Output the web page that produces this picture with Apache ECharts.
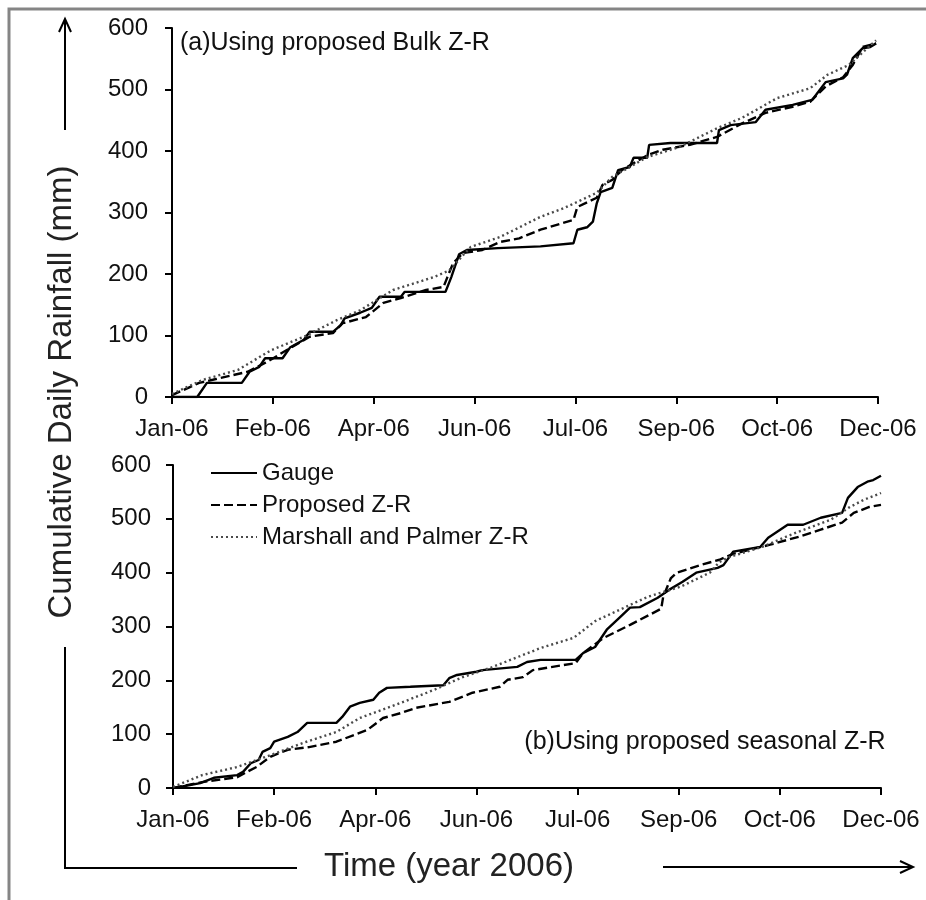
<!DOCTYPE html>
<html>
<head>
<meta charset="utf-8">
<script src="https://cdn.jsdelivr.net/npm/echarts@6/dist/echarts.min.js"></script>
<style>
html,body{margin:0;padding:0;background:#fff;}
#chart{width:926px;height:900px;}
</style>
</head>
<body>
<div id="chart"></div>
<script>
// ---- tick labels ----
const xTickLabels = ['Jan-06','Feb-06','Apr-06','Jun-06','Jul-06','Sep-06','Oct-06','Dec-06'];
const seriesNames = ['Gauge','Proposed Z-R','Marshall and Palmer Z-R'];

// ---- panel (a): Bulk Z-R (x = day of year, y = cumulative mm) ----
const gaugeA_days = [0,13,18,36,40,45,48,57,61,68,71,83,87,89,97,103,107,118,120,141,144,148,152,168,190,207,209,214,217,219,221,227,230,236,238,245,246,257,281,282,288,301,306,320,330,332,337,346,348,351,356,360,363];
const gaugeA_vals = [0,0,23,23,41,49,63,63,81,93,106,106,117,128,137,145,163,163,171,171,195,232,239,242,245,250,272,276,285,315,333,340,369,374,389,389,410,413,413,434,442,447,467,475,483,491,512,518,524,551,567,569,575];

const propA_days = [0,14,21,39,49,59,71,83,88,100,109,118,131,140,142,145,150,160,169,179,190,207,209,219,222,227,232,245,253,267,281,294,306,320,329,337,346,351,356,363];
const propA_vals = [3,23,28,41,57,76,98,104,120,130,153,161,174,179,195,218,234,239,252,258,272,288,309,324,345,353,369,393,402,410,423,445,462,472,480,505,520,540,569,575];

const mpA_days = [0,16,34,51,68,85,97,114,135,143,154,169,190,202,219,227,245,262,281,294,312,329,338,349,363];
const mpA_vals = [5,28,44,76,98,125,141,174,195,206,244,260,293,307,332,358,390,407,437,454,486,502,524,540,580];

// ---- panel (b): seasonal Z-R ----
const gaugeB_days = [0,2,14,21,33,36,40,44,46,50,52,59,64,69,84,87,91,96,103,106,110,122,139,142,146,156,159,177,182,189,207,211,217,223,230,235,240,249,255,262,269,280,283,288,302,306,316,324,333,344,347,352,357,360,364];
const gaugeB_vals = [0,1,9,19,24,30,46,52,67,74,86,95,104,121,121,132,151,158,164,177,186,188,191,204,210,216,219,225,234,238,238,251,262,294,318,335,336,353,368,383,400,409,414,439,448,465,489,489,502,511,539,559,569,572,580];

const propB_days = [0,15,33,38,43,50,59,70,84,100,108,117,125,142,154,168,172,180,185,207,211,221,235,251,252,256,259,271,281,288,307,322,333,344,350,358,364];
const propB_vals = [0,11,20,30,39,58,71,76,86,108,130,139,149,160,177,188,201,206,219,232,251,278,303,333,355,390,400,414,424,435,452,467,480,493,511,522,526];

const mpB_days = [0,15,33,50,67,84,96,117,134,149,163,177,189,206,217,226,244,261,276,281,286,303,320,338,348,355,364];
const mpB_vals = [2,24,39,61,84,104,130,158,182,206,223,243,260,279,310,325,355,374,400,420,429,448,474,498,522,535,548];

function pairs(d, v){ return d.map((x,i)=>[x, v[i]]); }

const FONT = '"Liberation Sans", Arial, sans-serif';
const styles = [
  {color:'#000', width:2.4, type:'solid'},
  {color:'#000', width:2.4, type:[9,4]},
  {color:'#4a4a4a', width:2.4, type:[2,3]}
];

function xAxisDef(gi){
  return {
    type:'value', gridIndex:gi, min:0, max:364, interval:52,
    axisLine:{show:true, onZero:false, lineStyle:{color:'#000', width:2}},
    axisTick:{show:true, length:7, lineStyle:{color:'#000', width:2}},
    splitLine:{show:false},
    axisLabel:{margin:20, color:'#111', fontSize:24, fontFamily:FONT,
      formatter:function(v){ return xTickLabels[Math.round(v/52)]; }}
  };
}
function yAxisDef(gi, margin){
  return {
    type:'value', gridIndex:gi, min:0, max:600, interval:100,
    axisLine:{show:true, lineStyle:{color:'#000', width:2}},
    axisTick:{show:true, length:7, lineStyle:{color:'#000', width:2}},
    splitLine:{show:false},
    axisLabel:{margin:margin, color:'#111', fontSize:24, fontFamily:FONT}
  };
}
function lineSeries(name, gi, data, s){
  return {
    name:name, type:'line', xAxisIndex:gi, yAxisIndex:gi, data:data,
    symbol:'none', showSymbol:false, smooth:false,
    lineStyle:{color:s.color, width:s.width, type:s.type},
    itemStyle:{color:s.color}
  };
}

const chart = echarts.init(document.getElementById('chart'), null, {renderer:'canvas'});
chart.setOption({
  backgroundColor:'#ffffff',
  animation:false,
  grid:[
    {left:172, right:48, top:28, height:369},
    {left:173, right:45, top:465, height:323}
  ],
  xAxis:[xAxisDef(0), xAxisDef(1)],
  yAxis:[yAxisDef(0, 24), yAxisDef(1, 22)],
  legend:{
    data:seriesNames, orient:'vertical', left:205, top:456,
    itemWidth:46, itemHeight:14, itemGap:8,
    itemStyle:{color:'rgba(0,0,0,0)', borderColor:'rgba(0,0,0,0)', borderWidth:0, opacity:0},
    textStyle:{color:'#111', fontSize:24, fontFamily:FONT}
  },
  series:[
    lineSeries(seriesNames[0], 0, pairs(gaugeA_days, gaugeA_vals), styles[0]),
    lineSeries(seriesNames[1], 0, pairs(propA_days, propA_vals), styles[1]),
    lineSeries(seriesNames[2], 0, pairs(mpA_days, mpA_vals), styles[2]),
    lineSeries(seriesNames[0], 1, pairs(gaugeB_days, gaugeB_vals), styles[0]),
    lineSeries(seriesNames[1], 1, pairs(propB_days, propB_vals), styles[1]),
    lineSeries(seriesNames[2], 1, pairs(mpB_days, mpB_vals), styles[2])
  ],
  graphic:[
    {type:'rect', silent:true, shape:{x:9, y:9, width:1000, height:1000},
      style:{fill:'none', stroke:'#858585', lineWidth:3}},
    // vertical arrow (y title)
    {type:'line', silent:true, shape:{x1:65, y1:130, x2:65, y2:20}, style:{stroke:'#000', lineWidth:2}},
    {type:'polyline', silent:true, shape:{points:[[59,32],[65,19],[71,32]]}, style:{stroke:'#000', lineWidth:2, fill:'none'}},
    {type:'polyline', silent:true, shape:{points:[[65,647],[65,868],[297,868]]}, style:{stroke:'#000', lineWidth:2, fill:'none'}},
    // horizontal arrow (x title)
    {type:'line', silent:true, shape:{x1:663, y1:867, x2:912, y2:867}, style:{stroke:'#000', lineWidth:2}},
    {type:'polyline', silent:true, shape:{points:[[900,861],[913,867],[900,873]]}, style:{stroke:'#000', lineWidth:2, fill:'none'}},
    // texts
    {type:'text', silent:true, x:62, y:392, rotation:Math.PI/2,
      style:{text:'Cumulative Daily Rainfall (mm)', font:'33px "Liberation Sans", Arial, sans-serif', fill:'#222', align:'center', verticalAlign:'middle'}},
    {type:'text', silent:true, x:449, y:867,
      style:{text:'Time (year 2006)', font:'33px "Liberation Sans", Arial, sans-serif', fill:'#222', align:'center', verticalAlign:'middle'}},
    {type:'text', silent:true, x:180, y:43,
      style:{text:'(a)Using proposed Bulk Z-R', font:'25px "Liberation Sans", Arial, sans-serif', fill:'#111', align:'left', verticalAlign:'middle'}},
    {type:'text', silent:true, x:705, y:742,
      style:{text:'(b)Using proposed seasonal Z-R', font:'25px "Liberation Sans", Arial, sans-serif', fill:'#111', align:'center', verticalAlign:'middle'}}
  ]
});
</script>
</body>
</html>
